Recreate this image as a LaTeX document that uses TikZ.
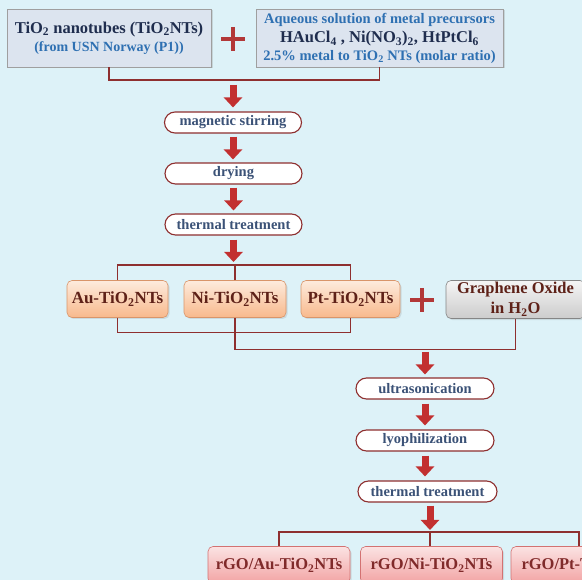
\documentclass[tikz,border=0pt]{standalone}
\usepackage{fontspec}
\setmainfont{Liberation Serif}
\usetikzlibrary{arrows.meta, shapes.misc, shadows}

\definecolor{bgcyan}{HTML}{DDF2F8}
\definecolor{navy}{HTML}{1F2D4E}
\definecolor{ablue}{HTML}{2E70B2}
\definecolor{slate}{HTML}{3B5277}
\definecolor{brick}{HTML}{8E2F2F}
\definecolor{arrowred}{HTML}{C23030}
\definecolor{plusred}{HTML}{B23838}
\definecolor{darkbrown}{HTML}{5E2118}
\definecolor{srcfill}{HTML}{DCE4EF}
\definecolor{peachline}{HTML}{D9956A}
\definecolor{peachtop}{HTML}{FDEBDD}
\definecolor{peachbot}{HTML}{F8B98C}
\definecolor{greyline}{HTML}{858585}
\definecolor{pinkline}{HTML}{D37272}
\definecolor{pinktop}{HTML}{FBE3E3}
\definecolor{pinkbot}{HTML}{F2A3A3}
\newcommand{\sub}[1]{\textsubscript{#1}}

\tikzset{
    srcbox/.style={draw=gray!75, fill=srcfill, line width=0.8pt, minimum height=58pt, inner sep=1pt, align=center,
        drop shadow={opacity=0.25, shadow xshift=1.5pt, shadow yshift=-1.5pt}},
    process/.style={rounded rectangle, draw=brick, fill=white, line width=1.1pt, minimum width=137pt,
        minimum height=21pt, inner sep=0pt, text=slate, font=\bfseries\fontsize{14.5}{16}\selectfont},
    sample/.style={rounded corners=5pt, draw=#1, line width=0.6pt, minimum height=37pt, inner sep=2pt,
        align=center, font=\bfseries\fontsize{17}{19}\selectfont,
        drop shadow={opacity=0.2, shadow xshift=1.5pt, shadow yshift=-1.5pt}},
    peach/.style={sample=peachline, top color=peachtop, bottom color=peachbot, text=darkbrown},
    final/.style={sample=pinkline, top color=pinktop, bottom color=pinkbot, text=brick!90!black,
        minimum width=142pt, font=\bfseries\fontsize{16.5}{20}\selectfont},
    link/.style={draw=brick, line width=1.4pt},
    flow/.style={draw=arrowred, line width=7pt, -{Triangle[width=18pt,length=10pt]}},
    plus/.style={draw=plusred, line width=3.5pt}
}

\begin{document}
\begin{tikzpicture}[x=1pt, y=-1pt]
    \useasboundingbox (0,0) rectangle (582,580);
    \clip (0,0) rectangle (582,580);
    \fill[bgcyan] (0,0) rectangle (582,580);

    % starting materials
    \node[srcbox, minimum width=204pt] (tio2) at (109,38)
        {\color{navy}\bfseries\fontsize{16.5}{20}\selectfont TiO\sub{2} nanotubes (TiO\sub{2}NTs)\\[4pt]
         \color{ablue}\bfseries\fontsize{14}{18}\selectfont (from USN Norway (P1))};
    \node[srcbox, minimum width=247pt] (prec) at (379.5,38)
        {\color{ablue}\bfseries\fontsize{14.5}{18}\selectfont Aqueous solution of metal precursors\\[4pt]
         \color{navy}\bfseries\fontsize{16.5}{20}\selectfont HAuCl\sub{4} , Ni(NO\sub{3})\sub{2}, HtPtCl\sub{6}\\[3pt]
         \color{ablue}\bfseries\fontsize{14.5}{18}\selectfont 2.5\% metal to TiO\sub{2} NTs (molar ratio)};
    \draw[plus] (221,39) -- (245,39) (233,27) -- (233,51);

    \coordinate (mix) at (233,80);
    \draw[link] (tio2.south) -- (tio2.south |- mix) -| (prec.south);

    \node[process] (stir) at (233,122.5) {magnetic stirring};
    \node[process] (dry) at (233.5,173.5) {drying};
    \node[process] (heat) at (233.5,224.5) {thermal treatment};
    \draw[flow, shorten <=5pt, shorten >=4pt] (mix) -- (stir.north);
    \draw[flow, shorten <=3pt, shorten >=3pt] (stir.south) -- (stir.south |- dry.north);
    \draw[flow, shorten <=3pt, shorten >=3pt] (dry.south) -- (dry.south |- heat.north);

    % metal loaded nanotubes
    \node[peach, minimum width=101pt] (au) at (117.5,299) {Au-TiO\sub{2}NTs};
    \node[peach, minimum width=102pt] (ni) at (235,299) {Ni-TiO\sub{2}NTs};
    \node[peach, minimum width=99pt] (pt) at (350.5,299) {Pt-TiO\sub{2}NTs};
    \node[sample=greyline, top color=gray!8, bottom color=gray!40, text=darkbrown, minimum width=139pt,
        font=\bfseries\fontsize{16.5}{20}\selectfont] (go) at (515.5,299.5) {Graphene Oxide\\in H\sub{2}O};
    \draw[plus] (410,300) -- (434,300) (422,288) -- (422,312);

    \coordinate (split) at (234,265);
    \draw[flow, shorten <=4pt, shorten >=3pt] (heat.south) -- (heat.south |- split);
    \draw[link] (au.north) |- (split) -| (pt.north);
    \draw[link] (ni.north) -- (ni.north |- split);
    \draw[link] (au.south) -- ++(0,15) -| (pt.south);
    \draw[link] (ni.south) -- ++(0,32) coordinate (mix2) -| (go.south);

    \node[process, minimum width=138pt] (sono) at (425,388.5) {ultrasonication};
    \node[process, minimum width=138pt] (lyo) at (425,440.5) {lyophilization};
    \node[process, minimum width=139pt] (heat2) at (427.5,491.5) {thermal treatment};
    \draw[flow, shorten <=2pt, shorten >=3pt] (sono.north |- mix2) -- (sono.north);
    \draw[flow, shorten <=4pt, shorten >=4pt] (sono.south) -- (sono.south |- lyo.north);
    \draw[flow, shorten <=4pt, shorten >=4pt] (lyo.south) -- (lyo.south |- heat2.north);

    % final composites
    \node[final] (rau) at (279,565) {rGO/Au-TiO\sub{2}NTs};
    \node[final] (rni) at (431.5,565) {rGO/Ni-TiO\sub{2}NTs};
    \node[final] (rpt) at (582,565) {rGO/Pt-TiO\sub{2}NTs};

    \coordinate (split2) at (430,532);
    \draw[flow, shorten <=3pt, shorten >=2pt] (heat2.south -| split2) -- (split2);
    \draw[link] ([xshift=-3pt]rpt.north) |- (split2) -| (rau.north);
    \draw[link] (split2) -- (split2 |- rni.north);
\end{tikzpicture}
\end{document}
